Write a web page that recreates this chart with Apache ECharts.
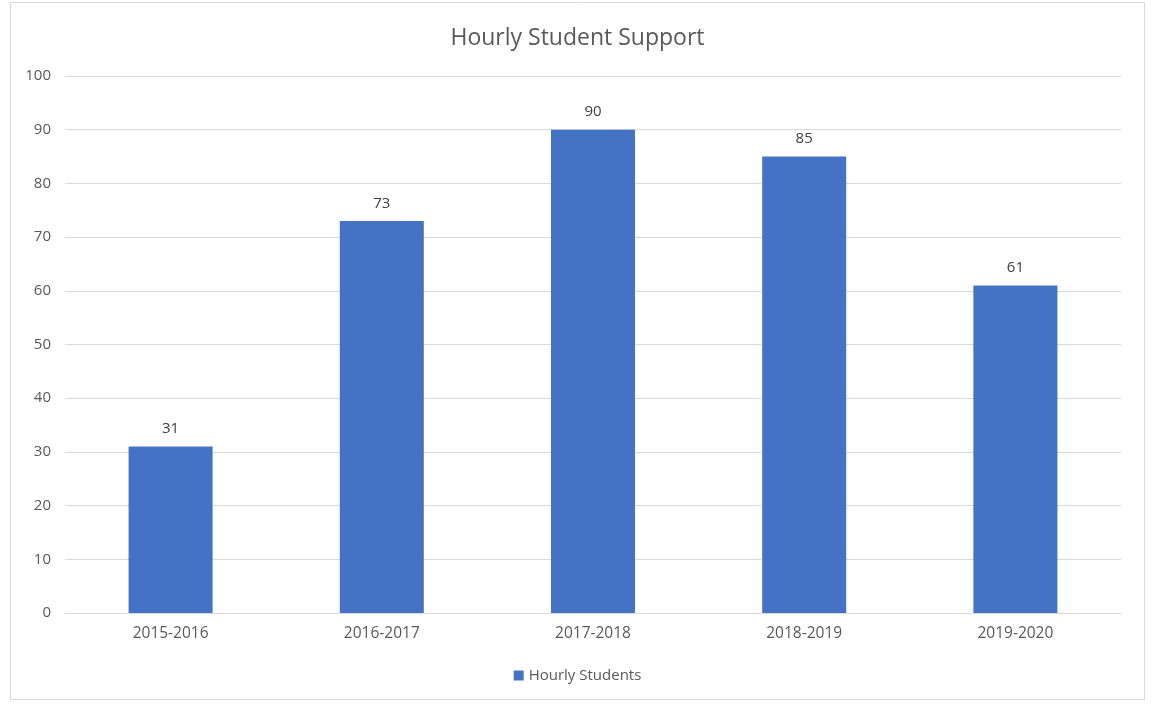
<!DOCTYPE html>
<html><head><meta charset="utf-8">
<script src="https://cdn.jsdelivr.net/npm/echarts@6/dist/echarts.min.js"></script>
<style>html,body{margin:0;padding:0;background:#fff}#c{width:1155px;height:704px}</style>
</head><body><div id="c"></div>
<script>
const categories = ['2015-2016','2016-2017','2017-2018','2018-2019','2019-2020'];
const hourlyStudents = [31, 73, 90, 85, 61];
const yTicks = [0,10,20,30,40,50,60,70,80,90,100];

const chart = echarts.init(document.getElementById('c'));
chart.setOption({
  animation: false,
  backgroundColor: '#fff',
  textStyle: { fontFamily: 'Open Sans, Calibri, sans-serif' },
  graphic: [{ type: 'rect', shape: { x: 10.5, y: 2.5, width: 1134, height: 697 },
    style: { fill: 'none', stroke: '#d9d9d9', lineWidth: 1 }, silent: true }],
  title: { text: 'Hourly Student Support', left: 'center', top: 22,
    textStyle: { fontSize: 23, fontWeight: 'normal', color: '#595959', fontFamily: 'Open Sans, sans-serif' } },
  legend: { bottom: 16, left: 'center', itemWidth: 10, itemHeight: 10, icon: 'rect',
    textStyle: { color: '#595959', fontSize: 15 }, data: ['Hourly Students'] },
  grid: { left: 65, right: 34, top: 76, bottom: 91, containLabel: false },
  xAxis: { type: 'category', data: categories,
    axisLine: { lineStyle: { color: '#d9d9d9' } }, axisTick: { show: false },
    axisLabel: { color: '#595959', fontSize: 15.5, margin: 13 } },
  yAxis: { type: 'value', min: 0, max: 100, interval: 10,
    axisLine: { show: false }, axisTick: { show: false },
    splitLine: { lineStyle: { color: '#d9d9d9' } },
    axisLabel: { color: '#595959', fontSize: 15, margin: 14,
      formatter: v => yTicks.includes(v) ? String(v) : '' } },
  series: [{ name: 'Hourly Students', type: 'bar', data: hourlyStudents, barWidth: 84,
    itemStyle: { color: '#4472C4' },
    label: { show: true, position: 'top', distance: 10, color: '#404040', fontSize: 15 } }]
});
</script></body></html>
